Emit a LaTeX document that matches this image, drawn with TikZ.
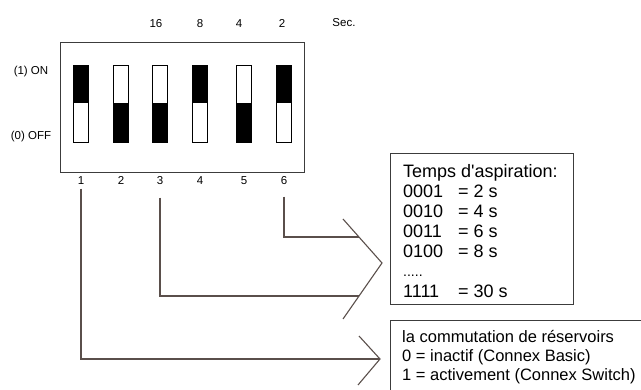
\documentclass[tikz,border=0pt]{standalone}
\usepackage{fontspec}
\setmainfont{Liberation Sans}
\definecolor{linegray}{HTML}{5A4F4B}
\definecolor{framegray}{HTML}{3C3C3C}

\begin{document}
\begin{tikzpicture}[x=1pt,y=-1pt,
  small/.style={font=\fontsize{11.5}{13}\selectfont},
  big/.style={font=\fontsize{18}{20}\selectfont, anchor=base west, inner sep=0pt},
  mid/.style={font=\fontsize{16.5}{19}\selectfont, anchor=base west, inner sep=0pt},
  frame/.style={draw=framegray, line width=1pt, anchor=north west},
  switchbox/.style={draw=black, line width=0.8pt, minimum width=15pt, minimum height=77pt, inner sep=0pt},
  wire/.style={draw=linegray, line width=1.1pt}]

\useasboundingbox (0,0) rectangle (641,390);

% DIP housing
\node[frame, minimum width=244pt, minimum height=130pt] (housing) at (60,42) {};

% side labels
\node[small] (on) at (31,72) {(1) ON};
\node[small] (off) at (31,137) {(0) OFF};

% switches: x position / lever (1 = up, 0 = down)
\foreach \x/\s [count=\i] in {81/1,121/0,160/0,200/1,244/0,284/1} {
  \node[switchbox] (sw\i) at (\x,103.5) {};
  \ifnum\s=1 \fill (sw\i.north west) rectangle (sw\i.east);
  \else \fill (sw\i.west) rectangle (sw\i.south east); \fi
  \node[small, anchor=base] (n\i) at (\x,185) {\i};
}

% weights on top
\foreach \x/\w [count=\i from 3] in {156/16,200/8,239/4,282/2}
  \node[small, anchor=base] (w\i) at (\x,28) {\w};
\node[small, anchor=base] (sec) at (344,27) {Sec.};

% suction time box
\node[frame, minimum width=183pt, minimum height=151pt] (tbox) at (390,153) {};
\node[big] (t0) at (403,178) {Temps d\textquotesingle aspiration:};
\foreach \c/\v/\y [count=\i] in {0001/2/198,0010/4/218,0011/6/238,0100/8/258,1111/30/298}
  \node[big] (t\i) at (403,\y) {\makebox[55pt][l]{\c}= \v\ s};
\node[big, font=\fontsize{14}{16}\selectfont] (tdots) at (403,277) {.....};

% tank switching box (runs off the edge)
\begin{scope}
\clip (0,0) rectangle (641,390);
\node[frame, minimum width=260pt, minimum height=80pt] (sbox) at (390,320) {};
\end{scope}
\node[mid] (s1) at (402,343) {la commutation de réservoirs};
\node[mid] (s2) at (402,362) {0 = inactif (Connex Basic)};
\node[mid] (s3) at (402,381) {1 = activement (Connex Switch)};

% chevrons
\coordinate (ca1) at (343,219);
\coordinate (tipA) at (382,263);
\coordinate (ca2) at (343,319);
\coordinate (cb1) at (359,336);
\coordinate (tipB) at (380,359);
\coordinate (cb2) at (358,385);
\draw[wire] (ca1) -- (tipA) -- (ca2);
\draw[wire] (cb1) -- (tipB) -- (cb2);

% connectors
\coordinate (jA) at (359,237);
\coordinate (jB) at (359,296);
\draw[wire, shorten <=8pt] (n6.south) |- (jA);
\draw[wire, shorten <=9pt] (n3.south) |- (jB);
\draw[wire] (n1.south) |- (tipB);

\end{tikzpicture}
\end{document}
